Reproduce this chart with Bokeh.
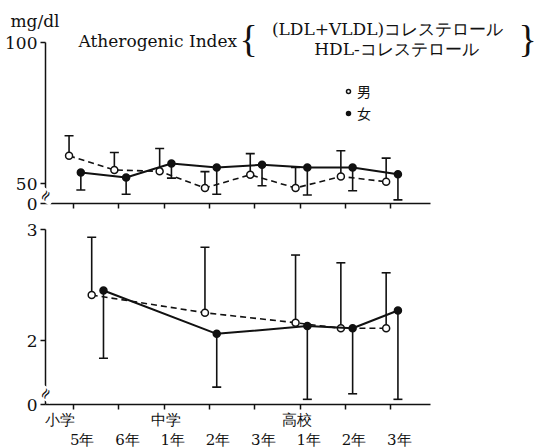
from bokeh.plotting import figure
from bokeh.layouts import column
from bokeh.models import (ColumnDataSource, FixedTicker, LinearAxis, Label, Legend,
                          LegendItem, Whisker, TeeHead, Range1d)
from bokeh.embed import file_html
from bokeh.resources import INLINE

# ---------------- data ----------------
grades = [0, 1, 2, 3, 4, 5, 6, 7]
grade_labels = ["5年", "6年", "1年", "2年", "3年", "1年", "2年", "3年"]
school_labels = ["小学", "中学", "高校"]
school_pos = [-0.29, 2.05, 4.94]

# top panel (mg/dl)
top_male = [59.9, 54.9, 54.4, 48.5, 53.2, 48.5, 52.6, 50.7]
top_male_upper = [67.0, 61.1, 62.5, 54.3, 60.7, 55.8, 61.7, 59.1]
top_female = [54.0, 52.2, 57.2, 55.8, 56.7, 55.8, 55.8, 53.4]
top_female_lower = [47.8, 46.3, 52.0, 46.3, 49.3, 46.0, 47.5, 44.3]

# bottom panel (Atherogenic Index)
ai_grades = [0.5, 3, 5, 6, 7]
ai_male = [2.41, 2.25, 2.16, 2.11, 2.11]
ai_male_upper = [2.93, 2.84, 2.77, 2.70, 2.61]
ai_female = [2.45, 2.06, 2.13, 2.11, 2.27]
ai_female_lower = [1.84, 1.58, 1.47, 1.52, 1.47]

top_ticks = [43, 50, 100]
top_tick_text = {43: "0"}
bot_ticks = [1.42, 2, 3]
bot_tick_text = {1.42: "0"}

M_OFF, F_OFF = -0.1, 0.16
INK = "#111111"
SERIF = "DejaVu Serif"
CJK = "Noto Sans CJK JP"
PXU = 45.3                      # px per grade
X0 = -0.62                      # data x at the y axis
XR = (X0 - 45 / PXU, X0 + 495 / PXU)
XB = (X0, 7.88)


def px_x(px):
    return X0 + (px - 45) / PXU


def py_top(py):          # canvas px (top figure) -> mg/dl
    return 43 + (203 - py) / 2.82


def py_bot(py):          # canvas px (whole page) -> index
    return 2 + (340 - py) / 111


def style_y(ax, ticks, overrides, bounds):
    ax.ticker = FixedTicker(ticks=ticks)
    ax.major_label_overrides = overrides
    ax.fixed_location = X0
    ax.bounds = bounds
    ax.major_label_text_font = SERIF
    ax.major_label_text_font_size = "17px"
    ax.major_label_text_color = INK
    ax.major_label_standoff = 3
    ax.major_tick_out = 5
    ax.major_tick_in = 0
    ax.minor_tick_line_color = None
    ax.axis_line_width = 1.5
    ax.axis_line_color = INK
    ax.major_tick_line_width = 1.5
    ax.major_tick_line_color = INK


def tick_axis(loc):
    ax = LinearAxis(ticker=FixedTicker(ticks=grades), bounds=XB, fixed_location=loc)
    ax.major_label_text_color = None
    ax.major_label_text_font_size = "1px"
    ax.major_label_standoff = 0
    ax.major_tick_out = 5
    ax.major_tick_in = 0
    ax.minor_tick_line_color = None
    ax.axis_line_width = 1.5
    ax.axis_line_color = INK
    ax.major_tick_line_width = 1.5
    ax.major_tick_line_color = INK
    return ax


def add_series(p, xs, ys, ext, upper, dash, fill, off):
    xo = [x + off for x in xs]
    src = ColumnDataSource(dict(x=xo, y=ys, e=ext))
    p.line("x", "y", source=src, line_color=INK, line_width=2 if dash == "solid" else 1.6,
           line_dash=dash)
    head = TeeHead(size=9, line_width=1.6, line_color=INK)
    none = TeeHead(size=1, line_alpha=0)
    if upper:
        w = Whisker(source=src, base="x", lower="y", upper="e", dimension="height",
                    line_color=INK, line_width=1.6, upper_head=head, lower_head=none)
    else:
        w = Whisker(source=src, base="x", lower="e", upper="y", dimension="height",
                    line_color=INK, line_width=1.6, lower_head=head, upper_head=none)
    p.add_layout(w)
    return p.scatter("x", "y", source=src, size=7, marker="circle", line_color=INK,
                     line_width=1.5, fill_color=fill)


def txt(p, x, y, text, size, font=SERIF, align="left", angle=0.0, bg=None):
    p.add_layout(Label(x=x, y=y, text=text, text_font=font, text_font_size=size,
                       text_color=INK, text_align=align, text_baseline="middle",
                       angle=angle, background_fill_color=bg))


# ---------------- top panel ----------------
p1 = figure(width=540, height=212, x_range=Range1d(*XR),
            y_range=Range1d(py_top(212), py_top(0)),
            output_backend="svg", toolbar_location=None, x_axis_type=None,
            y_axis_type=None, min_border_left=0, min_border_right=0,
            min_border_top=0, min_border_bottom=0)
p1.outline_line_color = None
p1.grid.visible = False
ya1 = LinearAxis()
style_y(ya1, top_ticks, top_tick_text, (43, 100))
p1.add_layout(ya1, "left")
p1.add_layout(tick_axis(43), "below")

m1 = add_series(p1, grades, top_male, top_male_upper, True, "6 4", "white", M_OFF)
f1 = add_series(p1, grades, top_female, top_female_lower, False, "solid", INK, F_OFF)

legend = Legend(items=[LegendItem(label="男", renderers=[m1]),
                       LegendItem(label="女", renderers=[f1])],
                location=(343, 89), glyph_width=10, glyph_height=16, label_standoff=4,
                padding=0, spacing=2, margin=0, border_line_color=None,
                background_fill_alpha=0, label_text_font=CJK,
                label_text_font_size="14px", label_text_color=INK)
p1.add_layout(legend)

txt(p1, px_x(10), py_top(20), "mg/dl", "17px")
txt(p1, px_x(78), py_top(40), "Atherogenic Index", "17px")
txt(p1, px_x(248), py_top(38), "{", "38px", font="Liberation Serif", align="center")
txt(p1, px_x(527), py_top(38), "}", "38px", font="Liberation Serif", align="center")
txt(p1, px_x(387), py_top(28), "(LDL+VLDL)コレステロール", "17px", align="center")
txt(p1, px_x(396), py_top(48), "HDL-コレステロール", "17px", align="center")
txt(p1, X0, py_top(195), "≈", "15px", align="center", angle=1.0, bg="white")

# ---------------- bottom panel ----------------
p2 = figure(width=540, height=236, x_range=Range1d(*XR),
            y_range=Range1d(py_bot(448), py_bot(212)),
            output_backend="svg", toolbar_location=None, x_axis_type=None,
            y_axis_type=None, min_border_left=0, min_border_right=0,
            min_border_top=0, min_border_bottom=0)
p2.outline_line_color = None
p2.grid.visible = False
ya2 = LinearAxis()
style_y(ya2, bot_ticks, bot_tick_text, (1.42, 3))
p2.add_layout(ya2, "left")
p2.add_layout(tick_axis(1.42), "below")

ax_school = LinearAxis(ticker=FixedTicker(ticks=school_pos), fixed_location=py_bot(410),
                       major_label_overrides={pos: lab for pos, lab in zip(school_pos, school_labels)})
ax_grade_pos = [g + 0.19 for g in grades]
ax_grade = LinearAxis(ticker=FixedTicker(ticks=ax_grade_pos), fixed_location=py_bot(430),
                      major_label_overrides={pos: lab for pos, lab in zip(ax_grade_pos, grade_labels)})
for ax in (ax_school, ax_grade):
    ax.axis_line_color = None
    ax.major_tick_line_color = None
    ax.minor_tick_line_color = None
    ax.major_tick_out = 0
    ax.major_tick_in = 0
    ax.major_label_standoff = 0
    ax.major_label_text_font = SERIF
    ax.major_label_text_font_size = "15px"
    ax.major_label_text_color = INK
p2.add_layout(ax_school, "below")
p2.add_layout(ax_grade, "below")

add_series(p2, ai_grades, ai_male, ai_male_upper, True, "6 4", "white", M_OFF)
add_series(p2, ai_grades, ai_female, ai_female_lower, False, "solid", INK, F_OFF)

txt(p2, X0, py_bot(393), "≈", "15px", align="center", angle=1.0, bg="white")

layout = column(p1, p2, spacing=0)
open("out.html", "w").write(file_html(layout, INLINE))
